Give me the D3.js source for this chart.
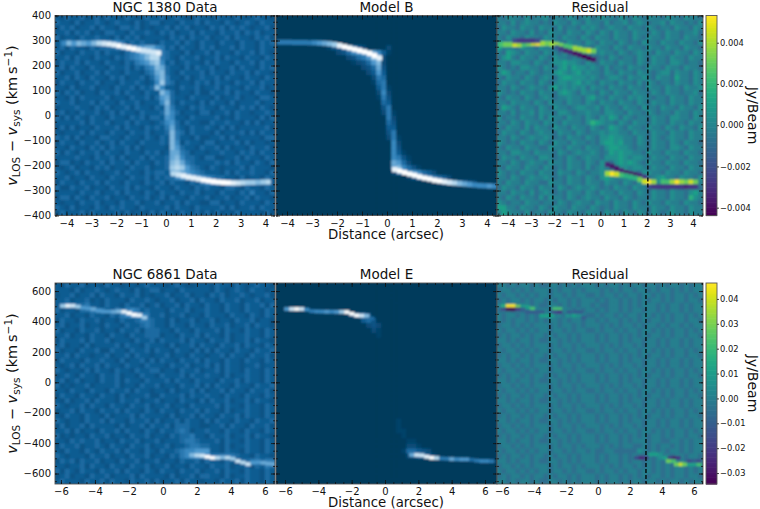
<!DOCTYPE html>
<html>
<head>
<meta charset="utf-8">
<script src="https://cdnjs.cloudflare.com/ajax/libs/d3/7.8.5/d3.min.js"></script>
<style>
  html, body { margin: 0; padding: 0; background: #fff; }
  svg { display: block; }
  text { font-family: "DejaVu Sans", sans-serif; fill: #111; }
  .tick text { font-size: 10px; fill: #111; }
  .cb .tick text { font-size: 8.3px; }
  .tick line { stroke: #111; stroke-width: 0.8; }
  .domain { display: none; }
</style>
</head>
<body>
<script>
// Brightness grids, one hex digit per cell, top row first.
const data1380 = [
"43544534535443543454453454335443544354345443",
"54435344543454435345534435445354435434543544",
"35453445354435545343445354534435453545434453",
"44535453435544354454354534453544354453545344",
"53443544544353545344443545354453445354435453",
"45666666777776454544354453543544354435443545",
"45354435455567888899764535443545344535443544",
"534435445354435679abb65443534453544354453543",
"445354435443545678acc65435445344535443544354",
"3544535443544354678ab74534544353544354453544",
"45354435443544535467a95443535445344535443545",
"534453445354435443569a5435444535443544535443",
"445354354435453445358a6443534544535443544354",
"35443544534435445434 7b65344354535443544535 44",
"44353445344354453545a7443544534453544354 453",
"53545344354453544354 4a85344353354453544354 43",
"44353544445344354453 5895443544435344534435 54",
"54453445354435445344 47a5354435354435344453 44",
"34445443545344535443 5496443545443544354535 43",
"45343544534535443544 4597534435534453544344 54",
"53535435443544354535 5487443544445343544435 35",
"44444535445344535443 4578535443354454435353 44",
"35353443544453544354 5469543544543535344444 53",
"43444535443544354453 445a653544435344453535 44",
"54535344355443544354 354a644353344535344443 55",
"35443544534535443544 454a735443553444535344 34",
"44354435453544535344 443a854435445353443544 53",
"53543544535443544354 5349965344344544354535 44",
"44445443544535344535 4459a75543553344535443 54",
"35534354453544535443 545ab96544445453544354 35",
"43453443545344354453 445bcb8654354344453544 43",
"54345354434453544354 5549a98765444353544544 35",
"44534435443544354453 5455789a9876554435344354",
"35443544535443544354 45354435467888777766665",
"53354453443544535443 5443544354544355435443 54",
"44443544534453544354 3544354453443544354644 35",
"35535435445344354453 4535443544534453445354 43",
"43443544534435445344 5344535443355344354443 54",
"54353443543545443544 4453544354444535344535 44",
"35444535444453534435 3544354453535343544443 53"
];
const modelB = [
"","","","","","",
"00000000001345654200002",
"000000000000235789a9741",
"0000000000000023568bc2",
"00000000000000012358a2",
"0000000000000000023593",
"0000000000000000002484",
"0000000000000000000265",
"0000000000000000000156",
"00000000000000000000461",
"00000000000000000000272",
"00000000000000000000163",
"00000000000000000000054",
"00000000000000000000036",
"000000000000000000000261",
"000000000000000000000062",
"000000000000000000000053",
"000000000000000000000044",
"000000000000000000000036",
"0000000000000000000000261",
"0000000000000000000000072",
"0000000000000000000000073",
"00000000000000000000000741",
"000000000000000000000007631",
"000000000000000000000009852",
"000000000000000000000009a7531",
"00000000000000000000000256787542",
"00000000000000000000000000135676542",
"0000000000000000000000000000000013455432",
"","","","","",""
];
const resid1380 = [
"76877686778677687678678776876876877687768776",
"77686787767687768768776867786787677868776768",
"68776877687768677687876787768776876776877687",
"77687768676877687768768768776877687687767786",
"76877687768776877687687768776876877687768776",
"87687768776877687768768776876768776877687768",
"97776877687768776877687768768776877687768776",
"76987687768776877687678776876787768776877687",
"68976877687687767776767687677687687768776877",
"77688776876788988768768776877687687768876776",
"87676887768768979887876867768776877687768776",
"79867768767789878978776876877687767886877687",
"76877687678768998887876788768778768776977687",
"68776877687678878978768776877686876776877687",
"77687678776897878786877687768776877687768778",
"87676877687768987687768768776877687687767786",
"76877687678767787768977687768787767768776877",
"77687776876877687768768776877687687768776877",
"69876877687687767887786877687768776877687768",
"77686778687768876778776887768776876776877687",
"86776877686877687768768798687677687768877687",
"7768768776877687776 8a9877687687768776877687",
"76877686877687768776876798768776877687687768",
"68776876787768776876778788776877687768776877",
"77687678778767687768768898877687687678776877",
"87676877687687768776768998977687687768768776",
"76877687766877687768776899887677687768876877",
"77688776877768767877876798988776877687768776",
"68776877688767687678776888987887687768776877",
"77687678776877687768768768989876877687768776",
"76877687768767687768678776887887687768776877",
"87676877687768776876778776687768877687768776",
"77687678778767687768768987778777678977687768",
"76877687766877687768776877687687768776877687",
"68776877687768767877876768776877687768768776",
"77687768678767687768768776877687687768776897",
"76876877686877687678776877687677687768776a87",
"87677687767768767877687768776876877687768776",
"99776877687687768776876768776877687768776877",
"79877686776877687768776877687687687678776877"
];
const data6861 = [
"43544534435443443454443454334443544354345443",
"44435344543454435345534435444443543454354434",
"34453445354435445343445344534435453445434453",
"44534453435444354454344534453544354453445344",
"45665564435443544534534453544354435443544535",
"53443556664465676454443544534454435443544354",
"44534435443546788764453445344354443544354354",
"35443544534435445665443534453445344354453443",
"45344534435443544565443544354435445344535443",
"53443544534435445355544354435444535443544354",
"44534435443544354455534435445354435344544354",
"35444535445344435445354445354435445344535443",
"45344353444453544354443534453544354453544354",
"53443544533544354453544354435353544354435445",
"44535443445344535443445344354434453544354453",
"35444354454435344535354435445354435443544354",
"43453544535443544354443544534453535443445344",
"54344353544354435445534435445344535443544354",
"34543544354453443544354445354454435344544354",
"45345344354453544354445354435444354453544354",
"53434453444453443544534435445353544354435445",
"44354435443544535443443534453534453544354453",
"35443544354435344453354445354454435443544354",
"43534453544435445344534435443535445344535443",
"54344535443544354453445344354444535443544354",
"34453544354453544354354435445354435344544354",
"43544354435344453544443534453544354453544354",
"54344354453544354453534453544353544354435445",
"35344535444435344535445355544334453544354453",
"44535344354453544354354456534454435443544354",
"53434435445344354453443545564435445344535443",
"44354544534435445344534445665444535443544354",
"35445344543544354453445344566554435344544354",
"43544354354453544354354456778884435443544354",
"54344435445344354453443546788876666654435443",
"35453544534435445344534435445354435445566566",
"44344535443544354453445344354435445344535465",
"53543544354453544354354435445344535443544354",
"34534435445344453544443534453554435344544354",
"45444354453544354453534453544344354453544354"
];
const modelE = [
"","","","","","",
"0000000000000013563",
"00000000000000000453",
"000000000000000000232",
"000000000000000000021",
"000000000000000000001",
"","","","","","","","","","","","","","","","",
"0000000000000000000000001",
"0000000000000000000000001",
"00000000000000000000000011",
"00000000000000000000000001",
"0000000000000000000000000011",
"00000000000000000000000000221",
"0000000000000000000000000155432",
"00000000000000000000000000235542",
"","","","",""
];
const resid6861 = [
"77676776766776767677767677676776776767767677",
"67767676777676776767776767677677676776767677",
"76776767677677676776676776767767767676776767",
"67677676776767767677767677676767677676776776",
"77676776766776767677676677676767776767767677",
"67767676777676776767767677676776776767767677",
"76776767677677676776676776767767767676776767",
"76767767676776767767767677676767677676776776",
"67767676777676776767776767677676776767767677",
"76776767677677676776676776767767767676776767",
"67677676776767767677767677676767677676776776",
"77676776766776767677767677676776776767767677",
"67767676777676776767776767677676776767767677",
"76776767677677676776676776767767767676776767",
"67677676776767767677767677676767677676776776",
"77676776766776767677767677676776776767767677",
"67767676777676776767776767677676776767767677",
"76776767677677676776676776767767767676776767",
"67677676776767767677767677676767677676776776",
"77676776766776767677767677676776776767767677",
"67767676777676776767776767677676776767767677",
"76776767677677676776676776767767767676776767",
"67677676776767767677767677676767677676776776",
"77676776766776767677767677676776776767767677",
"67767676777676776767776767677676776767767677",
"76776767677677676776676776767767767676776767",
"67677676776767767677767677676767677676776776",
"77676776766776767677767677676776776767767677",
"67767676777676776767776767677676776767767677",
"76776767677677676776676776767767767676776767",
"67677676776767767677767677676767677676776776",
"77676776766776767677767677676777677667767677",
"67767676777676776767776767677667676776767677",
"76776767677677676776766776666687676767767677",
"67677676776767767677767677676766767676776776",
"77676776766776767677767677676776767676776767",
"67767676777676776767776767677676767676776767",
"76776767677677676776676776767767767676776767",
"67677676776767767677767677676767677676776776",
"77676776766776767677767677676776776767767677"
];

// narrow gas lanes: distance, velocity, hex brightness
const laneData1380X = [-4.1,-3.9,-3.7,-3.5,-3.3,-3.1,-2.9,-2.7,-2.5,-2.3,-2.1,-1.9,-1.7,-1.5,-1.3,-1.1,-0.9,-0.7,-0.5,-0.3, 0.3,0.5,0.7,0.9,1.1,1.3,1.5,1.7,1.9,2.1,2.3,2.5,2.7,2.9,3.1,3.3,3.5,3.7,3.9,4.1];
const laneData1380V = [289,289,288,288,288,288,289,289,288,286,283,279,275,271,267,263,260,257,253,250, -233,-237,-241,-246,-250,-254,-258,-261,-264,-266,-268,-269,-270,-270,-269,-268,-268,-267,-266,-266];
const laneData1380L = "7a8a98acdeefeffedddec"+"deeeeffffffedcbbabcc9";
const laneModelBX = [-4.3,-4.1,-3.9,-3.7,-3.5,-3.3,-3.1,-2.9,-2.7,-2.5,-2.3,-2.1,-1.9,-1.7,-1.5,-1.3,-1.1,-0.9,-0.7,-0.5,-0.3, 0.3,0.5,0.7,0.9,1.1,1.3,1.5,1.7,1.9,2.1,2.3,2.5,2.7,2.9,3.1,3.3,3.5,3.7,3.9,4.1,4.3];
const laneModelBV = [293,293,293,292,292,292,291,291,290,289,287,284,280,275,270,265,260,255,248,240,230, -216,-222,-228,-234,-239,-245,-250,-254,-259,-262,-265,-268,-270,-272,-274,-276,-278,-280,-281,-282,-283];
const laneModelBL = "6666666789abefffffffe"+"efffffffffedca9877787";
const laneResid1380X = [-4.3,-4.1,-3.9,-3.7,-3.5,-3.3,-3.1,-2.9,-2.7,-2.5,-2.3,-2.1,-1.9,-1.7,-1.5,-1.3,-1.1,-0.9,-0.7,-0.5,-0.3,
  -3.7,-3.5,-3.3,-3.1,-2.9,-2.7, -1.9,-1.7,-1.5,-1.3,-1.1,-0.9,-0.7,-0.5,-0.3,
  0.3,0.5,0.7,0.9,1.1,1.3,1.5,1.7,1.9, 0.3,0.5,0.7,0.9,1.1,1.3,1.5,1.7,1.9,2.1,2.3,2.7,2.9,3.1,3.3,3.5,3.7,3.9,4.1,
  2.1,2.3,2.5,2.7,2.9,3.1,3.3,3.5,3.7,3.9,4.1];
const laneResid1380V = [284,284,284,284,283,285,287,289,289,288,288,286,283,280,277,273,269,265,261,259,258,
  299,299,299,299,299,299, 272,266,259,254,248,242,236,229,224,
  -196,-203,-212,-220,-228,-233,-237,-241,-246, -232,-233,-235,-238,-241,-245,-250,-256,-264,-266,-266,-266,-266,-266,-266,-266,-266,-266,-266,
  -285,-285,-285,-285,-285,-285,-285,-285,-285,-285,-285];
const laneResid1380L = "bccedbcefdcddcbbdddec"+"433334"+"532211001"+"211211123"+"dfebaaacefd"+"bbdfdcec"+"43333333233";
const laneData6861X = [-5.9,-5.6,-5.3,-5,-4.7,-4.4,-4.1,-3.8,-3.5,-3.2,-2.9,-2.6,-2.3,-2,-1.7,-1.4,-1.1, 1.7,2,2.3,2.6,2.9,3.2,3.5,3.8,4.1,4.4,4.7,5,5.3,5.6,5.9,6.2,6.5];
const laneData6861V = [502,503,503,497,490,486,482,470,465,465,464,466,464,455,444,441,425, -478,-480,-482,-490,-497,-497,-495,-496,-503,-518,-528,-538,-530,-527,-530,-535,-538];
const laneData6861L = "bedb8898889aeffeb"+"acdffcacbdcd88999";
const laneModelEX = [-5.9,-5.6,-5.3,-5,-4.7,-4.4,-4.1,-3.8,-3.5,-3.2,-2.9,-2.6,-2.3,-2,-1.7,-1.4,-1.1,-0.8, 1.6,1.9,2.2,2.5,2.8,3.1,3.4,3.7,4,4.3,4.6,4.9,5.2,5.5,5.8,6.1,6.4];
const laneModelEV = [482,482,482,482,478,468,466,465,464,464,463,463,462,450,440,438,437,420, -478,-478,-480,-490,-497,-498,-501,-503,-505,-506,-507,-507,-510,-515,-518,-518,-519];
const laneModelEL = "8dfd7677878bfffda5"+"9ddefc66978856776";
const laneResid6861X = [-5.9,-5.6,-5.3,-5,-4.7,-4.4,-4.1, -5.9,-5.6,-5.3,-5,-4.7, -4.4,-4.1,-3.8,-3.5, -2.7,-2.4,-2.7,-2.4, -3.5,-3.2,-2.9, -1.9,-1.5,-1.2,-1.8,-1.4,-1.1,-0.9,
  2.4,2.7,3, 3.3,3.6,3.9, 3.9,4.2,4.5, 4.5,4.8,5, 4.4,4.7, 4.9,5.2,5.4,5.7,6,6.3, 5.7,6,6.3];
const laneResid6861V = [500,502,502,498,495,495,485, 480,480,480,480,480, 462,462,462,462, 482,482,462,462, 438,438,438, 438,438,438,462,462,462,425,
  -497,-497,-497, -474,-474,-474, -497,-497,-497, -497,-497,-497, -518,-518, -540,-540,-540,-540,-540,-540, -518,-518,-518];
const laneResid6861L = "affc99b"+"40035"+"5555"+"bb43"+"999"+"898555"+"5"+"423"+"998"+"899"+"313"+"cb"+"cec99b"+"454";

// axes ranges, ticks and titles
const xDomain1380 = [[-4.46, 4.38], [-4.44, 4.4], [-4.46, 4.43]];
const xDomain6861 = [[-6.35, 6.59], [-6.54, 6.72], [-6.3, 6.56]];
const yDomain1380 = [400, -400];
const yDomain6861 = [653, -669];
const xTicks1380 = [-4, -3, -2, -1, 0, 1, 2, 3, 4];
const xTicks6861 = [-6, -4, -2, 0, 2, 4, 6];
const yTicks1380 = [-400, -300, -200, -100, 0, 100, 200, 300, 400];
const yTicks6861 = [-600, -400, -200, 0, 200, 400, 600];
const titles1380 = ["NGC 1380 Data", "Model B", "Residual"];
const titles6861 = ["NGC 6861 Data", "Model E", "Residual"];
const cutLines1380 = [-2.05, 2.05];
const cutLines6861 = [-3, 3];
const cbDomain1380 = [0.00532, -0.00438];
const cbDomain6861 = [0.0464, -0.0344];
const cbTicks1380 = [-0.004, -0.002, 0, 0.002, 0.004];
const cbTicks6861 = [-0.03, -0.02, -0.01, 0, 0.01, 0.02, 0.03, 0.04];

const w = 760;
const h = 509;
const panelX = [[55, 275], [276, 497], [497, 703]];
const padChar = ["4", "0", "7"];

const svg = d3.select("body").append("svg").attr("width", w).attr("height", h);
const defs = svg.append("defs");
defs.append("filter").attr("id", "soft")
    .attr("filterUnits", "userSpaceOnUse")
    .attr("x", 0).attr("y", 0).attr("width", w).attr("height", h)
    .append("feGaussianBlur").attr("stdDeviation", 1.25);

// blue map of the data and model panels, dark navy up to white
const blues = d3.scaleLinear()
    .domain([0, 0.27, 0.5, 0.75, 1])
    .range(["#023a5c", "#0f5c92", "#3f8fc8", "#a5cfea", "#ffffff"]);
const residMap = t => d3.interpolateViridis(Math.pow(t, 1.12));

function cellColor(ch, cmap) {
    return cmap(parseInt(ch, 16) / 15);
}

function drawGrid(g, grid, lane, box, cmap, opts, x, y, id, pad) {
    const rows = grid.map(r => r.replace(/ /g, "").slice(0, 44).padEnd(44, pad));
    const cellsX = d3.scaleBand().domain(d3.range(44)).range(box);
    const cellsY = d3.scaleBand().domain(d3.range(40)).range([opts.top, opts.bottom]);

    defs.append("clipPath").attr("id", id).append("rect")
        .attr("x", box[0]).attr("y", opts.top)
        .attr("width", box[1] - box[0]).attr("height", opts.bottom - opts.top);

    const layer = g.append("g").attr("clip-path", "url(#" + id + ")");
    // panel colour behind the blur so the edges do not fade out
    layer.append("rect")
        .attr("x", box[0]).attr("y", opts.top)
        .attr("width", box[1] - box[0]).attr("height", opts.bottom - opts.top)
        .attr("fill", cellColor(pad, cmap));

    const soft = layer.append("g").attr("filter", "url(#soft)");
    soft.selectAll("g").data(rows).enter().append("g")
        .selectAll("rect")
        .data((row, r) => Array.from(row).map((ch, c) => ({ ch, c, r })))
        .enter().append("rect")
        .attr("x", d => cellsX(d.c) - 0.3)
        .attr("y", d => cellsY(d.r) - 0.3)
        .attr("width", cellsX.bandwidth() + 0.6)
        .attr("height", cellsY.bandwidth() + 0.6)
        .attr("fill", d => cellColor(d.ch, cmap));

    // thin lanes go over the coarse cells
    const laneCells = lane.x.map((d, k) => ({ x: d, v: lane.v[k], ch: lane.l[k] || pad }));
    soft.append("g").selectAll("rect").data(laneCells).enter().append("rect")
        .attr("x", d => x(d.x - opts.laneStep / 2))
        .attr("width", d => x(d.x + opts.laneStep / 2) - x(d.x - opts.laneStep / 2) + 0.3)
        .attr("y", d => y(d.v + opts.laneHeight / 2))
        .attr("height", d => y(d.v - opts.laneHeight / 2) - y(d.v + opts.laneHeight / 2))
        .attr("fill", d => cellColor(d.ch, cmap));
}

function minorTicks(scale, step) {
    const [a, b] = d3.extent(scale.domain());
    const first = Math.ceil(a / step);
    const last = Math.floor(b / step);
    return d3.range(first, last + 1).map(i => i * step);
}

function drawPanel(opts, i) {
    const box = panelX[i];
    const x = d3.scaleLinear().domain(opts.xDomains[i]).range(box);
    const y = d3.scaleLinear().domain(opts.yDomain).range([opts.top, opts.bottom]);
    const g = svg.append("g");

    drawGrid(g, opts.grids[i], opts.lanes[i], box, i === 2 ? residMap : blues,
        opts, x, y, "clip" + opts.key + i, padChar[i]);

    if (i === 2) {
        g.selectAll(".cut").data(opts.cuts).enter().append("line")
            .attr("class", "cut")
            .attr("x1", d => x(d)).attr("x2", d => x(d))
            .attr("y1", opts.top).attr("y2", opts.bottom)
            .attr("stroke", "#000").attr("stroke-width", 1.3)
            .attr("stroke-dasharray", "4,2");
    }

    g.append("rect")
        .attr("x", box[0]).attr("y", opts.top)
        .attr("width", box[1] - box[0]).attr("height", opts.bottom - opts.top)
        .attr("fill", "none").attr("stroke", "#555").attr("stroke-width", 0.9);

    // major ticks point inwards on all four sides, labels only bottom and far left
    g.append("g").attr("transform", "translate(0," + opts.bottom + ")")
        .call(d3.axisBottom(x).tickValues(opts.xTicks).tickSize(-4).tickPadding(4)
            .tickFormat(d => d3.format("d")(d).replace("-", "\u2212")));
    g.append("g").attr("transform", "translate(0," + opts.top + ")")
        .call(d3.axisTop(x).tickValues(opts.xTicks).tickSize(-4).tickFormat(""));
    g.append("g").attr("transform", "translate(0," + opts.bottom + ")")
        .call(d3.axisBottom(x).tickValues(minorTicks(x, opts.xMinor)).tickSize(-2).tickFormat(""));
    g.append("g").attr("transform", "translate(0," + opts.top + ")")
        .call(d3.axisTop(x).tickValues(minorTicks(x, opts.xMinor)).tickSize(-2).tickFormat(""));

    const left = d3.axisLeft(y).tickValues(opts.yTicks).tickSize(-4).tickPadding(4);
    if (i === 0) left.tickFormat(d => d3.format("d")(d).replace("-", "\u2212"));
    else left.tickFormat("");
    g.append("g").attr("transform", "translate(" + box[0] + ",0)").call(left);
    g.append("g").attr("transform", "translate(" + box[1] + ",0)")
        .call(d3.axisRight(y).tickValues(opts.yTicks).tickSize(-4).tickFormat(""));
    g.append("g").attr("transform", "translate(" + box[0] + ",0)")
        .call(d3.axisLeft(y).tickValues(minorTicks(y, opts.yMinor)).tickSize(-2).tickFormat(""));
    g.append("g").attr("transform", "translate(" + box[1] + ",0)")
        .call(d3.axisRight(y).tickValues(minorTicks(y, opts.yMinor)).tickSize(-2).tickFormat(""));

    g.append("text")
        .attr("x", (box[0] + box[1]) / 2)
        .attr("y", opts.top - 4)
        .attr("text-anchor", "middle")
        .attr("font-size", 13.5)
        .text(opts.titles[i]);
}

function drawYLabel(cy) {
    const t = svg.append("text")
        .attr("transform", "translate(17," + cy + ") rotate(-90)")
        .attr("text-anchor", "middle")
        .attr("font-size", 14.5);
    t.append("tspan").attr("font-style", "italic").text("v");
    t.append("tspan").attr("font-size", 10.5).attr("dy", 3).text("LOS");
    t.append("tspan").attr("dy", -3).text(" \u2212 ");
    t.append("tspan").attr("font-style", "italic").text("v");
    t.append("tspan").attr("font-size", 10.5).attr("dy", 3).text("sys");
    t.append("tspan").attr("dy", -3).text(" (km\u2009s");
    t.append("tspan").attr("font-size", 10.5).attr("dy", -5).text("\u22121");
    t.append("tspan").attr("dy", 5).text(")");
}

function drawColorbar(opts) {
    const cb = d3.scaleLinear().domain(opts.cbDomain).range([opts.top, opts.bottom]);
    const steps = d3.range(0, 120);
    const color = d3.scaleSequential(d3.interpolateViridis).domain([119, 0]);
    const band = d3.scaleBand().domain(steps).range([opts.top, opts.bottom]);
    const g = svg.append("g").attr("class", "cb");
    g.selectAll("rect").data(steps).enter().append("rect")
        .attr("x", 706).attr("width", 11)
        .attr("y", d => band(d))
        .attr("height", band.bandwidth() + 0.6)
        .attr("fill", d => color(d));
    g.append("rect")
        .attr("x", 706).attr("y", opts.top)
        .attr("width", 11).attr("height", opts.bottom - opts.top)
        .attr("fill", "none").attr("stroke", "#555").attr("stroke-width", 0.9);
    g.append("g").attr("transform", "translate(717,0)")
        .call(d3.axisRight(cb).tickValues(opts.cbTicks).tickSize(2).tickPadding(1)
            .tickFormat(d => d3.format(opts.cbFormat)(d).replace("-", "\u2212")));
    svg.append("text")
        .attr("transform", "translate(748," + ((opts.top + opts.bottom) / 2) + ") rotate(90)")
        .attr("text-anchor", "middle")
        .attr("font-size", 14)
        .text("Jy/Beam");
}

const rowsOfPanels = [
    { key: "a", top: 15.5, bottom: 215.5, xDomains: xDomain1380, yDomain: yDomain1380,
      xTicks: xTicks1380, yTicks: yTicks1380, xMinor: 0.2, yMinor: 25,
      grids: [data1380, modelB, resid1380],
      lanes: [{ x: laneData1380X, v: laneData1380V, l: laneData1380L },
              { x: laneModelBX, v: laneModelBV, l: laneModelBL },
              { x: laneResid1380X, v: laneResid1380V, l: laneResid1380L }],
      laneStep: 0.2, laneHeight: 20,
      titles: titles1380, cuts: cutLines1380,
      cbDomain: cbDomain1380, cbTicks: cbTicks1380, cbFormat: ".3f", labelY: 239 },
    { key: "b", top: 283, bottom: 484, xDomains: xDomain6861, yDomain: yDomain6861,
      xTicks: xTicks6861, yTicks: yTicks6861, xMinor: 0.5, yMinor: 50,
      grids: [data6861, modelE, resid6861],
      lanes: [{ x: laneData6861X, v: laneData6861V, l: laneData6861L },
              { x: laneModelEX, v: laneModelEV, l: laneModelEL },
              { x: laneResid6861X, v: laneResid6861V, l: laneResid6861L }],
      laneStep: 0.3, laneHeight: 24,
      titles: titles6861, cuts: cutLines6861,
      cbDomain: cbDomain6861, cbTicks: cbTicks6861, cbFormat: ".2f", labelY: 507 }
];

rowsOfPanels.forEach(opts => {
    [0, 1, 2].forEach(i => drawPanel(opts, i));
    drawYLabel((opts.top + opts.bottom) / 2);
    drawColorbar(opts);
    svg.append("text")
        .attr("x", 386).attr("y", opts.labelY)
        .attr("text-anchor", "middle")
        .attr("font-size", 13.3)
        .text("Distance (arcsec)");
});
</script>
</body>
</html>
